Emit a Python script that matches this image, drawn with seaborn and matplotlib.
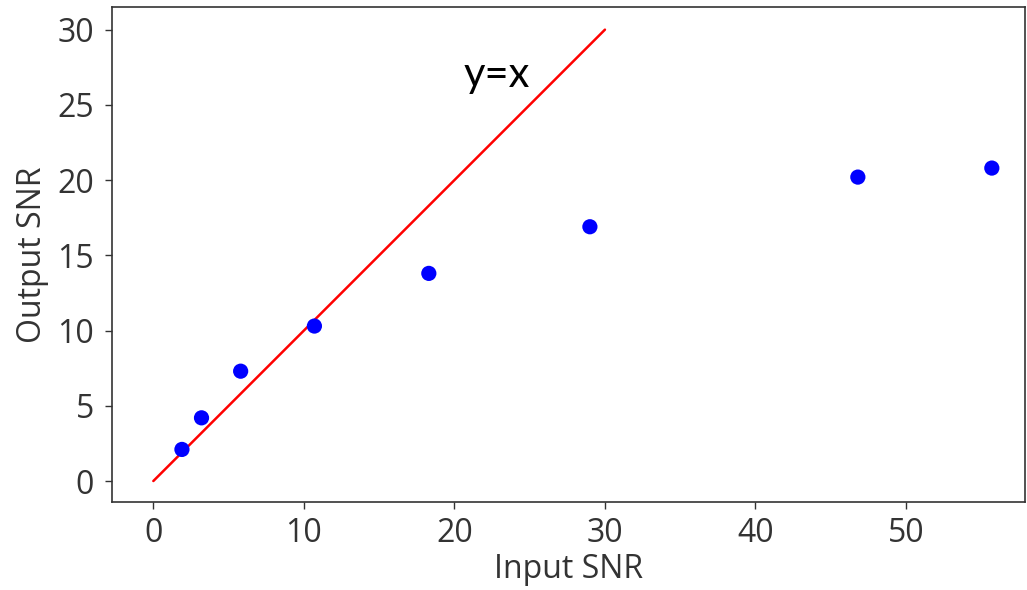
import matplotlib
matplotlib.use("Agg")
import matplotlib.pyplot as plt
import pandas as pd
import seaborn as sns

# measured SNR pairs
input_snr = [1.9, 3.2, 5.8, 10.7, 18.3, 29.0, 46.8, 55.7]
output_snr = [2.1, 4.2, 7.3, 10.3, 13.8, 16.9, 20.2, 20.8]

# reference line y = x
ref_x = [0, 30]
ref_y = [0, 30]

sns.set_style("ticks")
plt.rcParams["font.family"] = ["Open Sans", "DejaVu Sans"]

df = pd.DataFrame({"input": input_snr, "output": output_snr})
ref = pd.DataFrame({"x": ref_x, "y": ref_y})

fig, ax = plt.subplots(figsize=(10.27, 5.9), dpi=100)
fig.subplots_adjust(left=0.109, right=0.998, top=0.988, bottom=0.149)

sns.lineplot(data=ref, x="x", y="y", color="red", linewidth=1.8, ax=ax)
sns.scatterplot(data=df, x="input", y="output", color="blue", s=120,
                edgecolor="none", ax=ax, zorder=3)

ax.text(20.6, 26.2, "y=x", fontsize=30, family=["Lato", "DejaVu Sans"],
        ha="left", va="baseline", color="black")

ax.set_xlim(-2.75, 57.9)
ax.set_ylim(-1.4, 31.5)
ax.set_xticks([0, 10, 20, 30, 40, 50])
ax.set_yticks([0, 5, 10, 15, 20, 25, 30])
ax.tick_params(labelsize=23, length=5, width=1, colors="#333333", pad=6)
ax.tick_params(axis="y", pad=8)
ax.set_xlabel("Input SNR", fontsize=23, color="#333333", labelpad=2)
ax.set_ylabel("Output SNR", fontsize=23, color="#333333", labelpad=6)
for sp in ax.spines.values():
    sp.set_linewidth(1.2)
    sp.set_color("#333333")

fig.savefig("out.png", dpi=100)
